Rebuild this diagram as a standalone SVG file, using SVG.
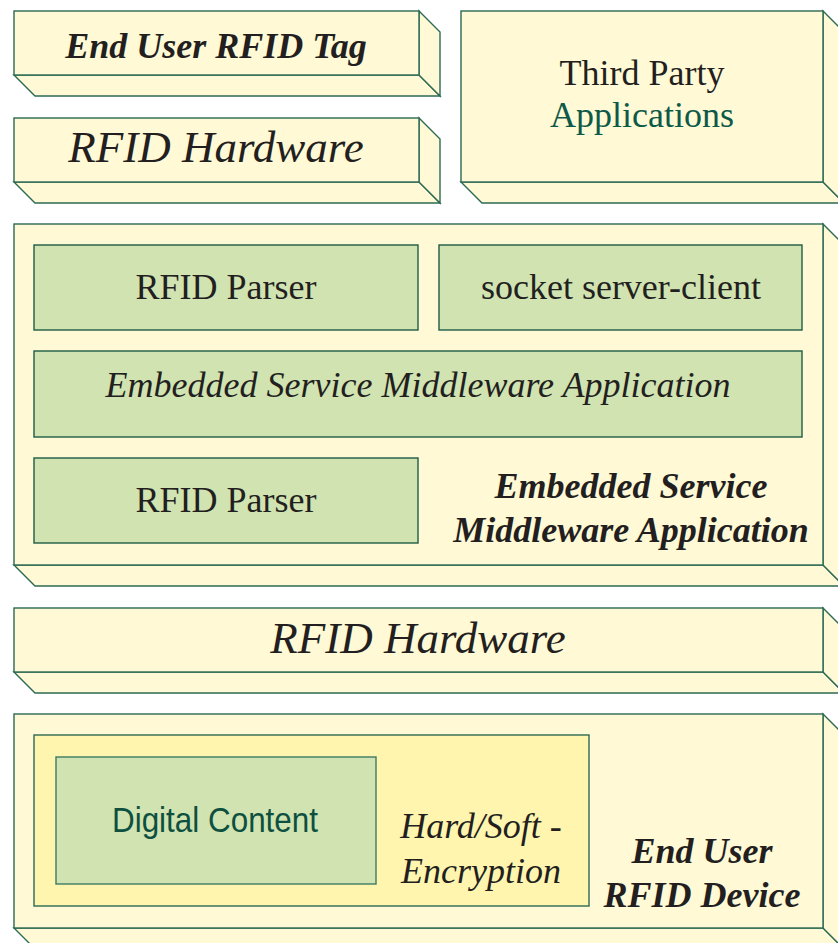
<svg xmlns="http://www.w3.org/2000/svg" width="838" height="943" viewBox="0 0 838 943">
<style>
.face{fill:#FFF9D6;stroke:#2C6A53;stroke-width:1.4;stroke-linejoin:miter}
.inner{fill:#D0E3B1;stroke:#1E5C45;stroke-width:1.4}
.enc{fill:#FFF5AE;stroke:#2C6A53;stroke-width:1.4}
.t{font-family:"Liberation Serif","Times New Roman",serif;fill:#231F20;text-anchor:middle}
.i{font-style:italic}
.b{font-weight:bold}
</style>
<rect width="838" height="943" fill="#FFFFFF"/>
<g id="end-user-rfid-tag">
<polygon class="face" points="14,75 35,96 440,96 419,75"/>
<polygon class="face" points="419,11 440,32 440,96 419,75"/>
<rect class="face" x="14" y="11" width="405" height="64"/>
<text class="t i b" x="216" y="58" font-size="36">End User RFID Tag</text>
</g>
<g id="rfid-hardware-top">
<polygon class="face" points="14,182 35,203 440,203 419,182"/>
<polygon class="face" points="419,118 440,139 440,203 419,182"/>
<rect class="face" x="14" y="118" width="405" height="64"/>
<text class="t i" x="216" y="162" font-size="45">RFID Hardware</text>
</g>
<g id="third-party-applications">
<polygon class="face" points="461,182 482,203 844,203 823,182"/>
<polygon class="face" points="823,11 844,32 844,203 823,182"/>
<rect class="face" x="461" y="11" width="362" height="171"/>
<text class="t" x="642" y="85" font-size="36">Third Party</text>
<text class="t" x="642" y="127" font-size="36" style="fill:#0E5A48">Applications</text>
</g>
<g id="middleware-layer">
<polygon class="face" points="14,565 35,586 844,586 823,565"/>
<polygon class="face" points="823,224 844,245 844,586 823,565"/>
<rect class="face" x="14" y="224" width="809" height="341"/>
<text class="t i b" x="631" y="498" font-size="36">Embedded Service</text>
<text class="t i b" x="631" y="542" font-size="36">Middleware Application</text>
</g>
<g id="rfid-parser-1">
<rect class="inner" x="34" y="245" width="384" height="85"/>
<text class="t" x="226" y="299" font-size="36">RFID Parser</text>
</g>
<g id="socket-server-client">
<rect class="inner" x="439" y="245" width="363" height="85"/>
<text class="t" x="621" y="299" font-size="36">socket server-client</text>
</g>
<g id="embedded-service-middleware-app">
<rect class="inner" x="34" y="351" width="768" height="86"/>
<text class="t i" x="418" y="397" font-size="36">Embedded Service Middleware Application</text>
</g>
<g id="rfid-parser-2">
<rect class="inner" x="34" y="458" width="384" height="85"/>
<text class="t" x="226" y="512" font-size="36">RFID Parser</text>
</g>
<g id="rfid-hardware-wide">
<polygon class="face" points="14,672 35,693 844,693 823,672"/>
<polygon class="face" points="823,608 844,629 844,693 823,672"/>
<rect class="face" x="14" y="608" width="809" height="64"/>
<text class="t i" x="418" y="653" font-size="45">RFID Hardware</text>
</g>
<g id="end-user-rfid-device">
<polygon class="face" points="14,928 35,949 844,949 823,928"/>
<polygon class="face" points="823,714 844,735 844,949 823,928"/>
<rect class="face" x="14" y="714" width="809" height="214"/>
<text class="t i b" x="702" y="863" font-size="36">End User</text>
<text class="t i b" x="702" y="907" font-size="36">RFID Device</text>
</g>
<g id="hard-soft-encryption">
<rect class="enc" x="34" y="735" width="555" height="171"/>
<text class="t i" x="481" y="838" font-size="36">Hard/Soft -</text>
<text class="t i" x="481" y="883" font-size="36">Encryption</text>
</g>
<g id="digital-content">
<rect class="inner" x="56" y="757" width="320" height="127" style="stroke:#3C7A63"/>
<text x="215" y="832" font-size="35" text-anchor="middle" font-family="'Liberation Sans Narrow','Liberation Sans',Arial,sans-serif" fill="#0E5040" textLength="206" lengthAdjust="spacingAndGlyphs">Digital Content</text>
</g>
<g id="connectors"/>
</svg>
